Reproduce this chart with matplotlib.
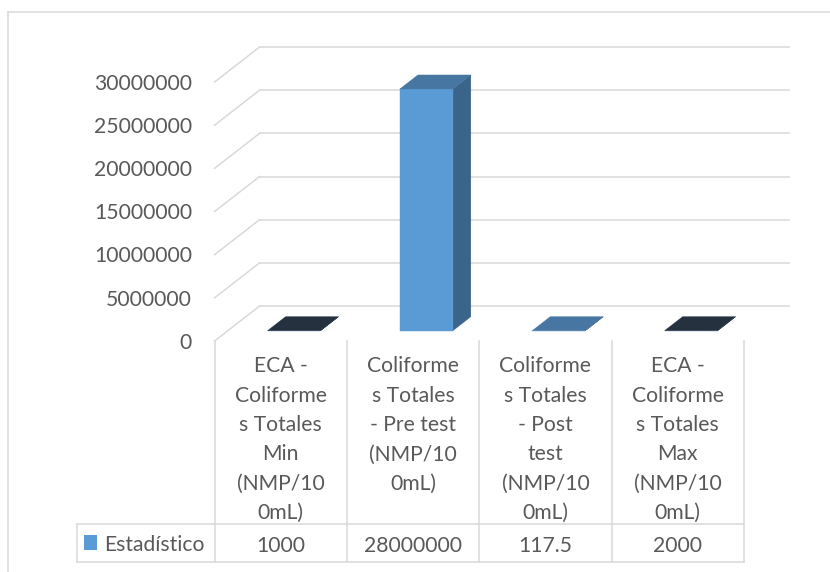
import matplotlib
matplotlib.use("Agg")
import matplotlib.pyplot as plt
from matplotlib.patches import Polygon
from matplotlib.lines import Line2D
from matplotlib.transforms import IdentityTransform

# ---- data -------------------------------------------------------------
categories = [
    "ECA - Coliformes Totales Min (NMP/100mL)",
    "Coliformes Totales - Pre test (NMP/100mL)",
    "Coliformes Totales - Post test (NMP/100mL)",
    "ECA - Coliformes Totales Max (NMP/100mL)",
]
category_lines = [
    ["ECA -", "Coliforme", "s Totales", "Min", "(NMP/10", "0mL)"],
    ["Coliforme", "s Totales", "- Pre test", "(NMP/10", "0mL)"],
    ["Coliforme", "s Totales", "- Post", "test", "(NMP/10", "0mL)"],
    ["ECA -", "Coliforme", "s Totales", "Max", "(NMP/10", "0mL)"],
]
series_name = "Estadístico"
values = [1000, 28000000, 117.5, 2000]
y_ticks = [0, 5000000, 10000000, 15000000, 20000000, 25000000, 30000000]

# ---- style ------------------------------------------------------------
W, H = 830, 572
FONT = "Lato"
FS = 15.2
TEXT_C = "#595959"
GRID_C = "#d9d9d9"
FRONT_C = "#5b9bd5"
SIDE_C = "#3a6489"
TOP_C = ["#263140", "#4676a1", "#4676a1", "#263140"]
DEPTH = (45.0, 35.0)       # oblique depth of the floor in pixels
BAR_F0, BAR_F1 = 0.294, 0.694
BAR_HALF = 0.2

fig = plt.figure(figsize=(W / 100, H / 100), dpi=100)
fig.patch.set_facecolor("white")

# front plane of the plot: categories 0..4 horizontally, values vertically
x0_px, x1_px = 214.6, 744.0
ybot_px, ytop_px = 341.0, 82.0
ax = fig.add_axes([x0_px / W, (H - ybot_px) / H,
                   (x1_px - x0_px) / W, (ybot_px - ytop_px) / H])
ax.set_xlim(0, len(categories))
ax.set_ylim(0, y_ticks[-1])
ax.axis("off")

ident = IdentityTransform()


def proj(x, v, f=0.0):
    px, py = ax.transData.transform((x, v))
    return (px + DEPTH[0] * f, py + DEPTH[1] * f)


def pix(x, y_from_top):
    return (x, H - y_from_top)


def line(p, q, color=GRID_C, lw=1.1, z=1):
    ax.add_line(Line2D([p[0], q[0]], [p[1], q[1]], color=color, lw=lw,
                       transform=ident, clip_on=False, zorder=z))


def poly(pts, color, z):
    ax.add_patch(Polygon(pts, closed=True, facecolor=color, edgecolor=color,
                         lw=0.3, transform=ident, clip_on=False, zorder=z))


def text(p, s, ha="center", va="baseline"):
    ax.text(p[0], p[1], s, transform=ident, ha=ha, va=va, color=TEXT_C,
            fontsize=FS, family=FONT, clip_on=False, zorder=6)


# chart area border (top and left edges)
line(pix(8, 12), pix(W + 5, 12), lw=1.1)
line(pix(8, 12), pix(8, H + 5), lw=1.1)

# walls: back gridlines and side-wall diagonals
for v in y_ticks:
    line(proj(0, v, 1.0), proj(len(categories), v, 1.0))
    line(proj(0, v, 0.0), proj(0, v, 1.0))
    p = proj(0, v, 0.0)
    text((p[0] - 22.6, p[1] - 1.8), f"{v}", ha="right", va="center")

# bars
for i, v in enumerate(values):
    cx = i + 0.5
    l, r = cx - BAR_HALF, cx + BAR_HALF
    side = [proj(r, 0, BAR_F0), proj(r, 0, BAR_F1), proj(r, v, BAR_F1), proj(r, v, BAR_F0)]
    front = [proj(l, 0, BAR_F0), proj(r, 0, BAR_F0), proj(r, v, BAR_F0), proj(l, v, BAR_F0)]
    top = [proj(l, v, BAR_F0), proj(r, v, BAR_F0), proj(r, v, BAR_F1), proj(l, v, BAR_F1)]
    poly(side, SIDE_C, 3)
    poly(front, FRONT_C, 4)
    poly(top, TOP_C[i], 5)

# data table
tbl_top, tbl_mid, tbl_bot = 341.0, 524.0, 562.0
legend_left = 77.0
for i in range(len(categories) + 1):
    xb = proj(i, 0)[0]
    line((xb, H - tbl_top), (xb, H - tbl_bot))
right_px = proj(len(categories), 0)[0]
line(pix(legend_left, tbl_mid), (right_px, H - tbl_mid))
line(pix(legend_left, tbl_bot), (right_px, H - tbl_bot))
line(pix(legend_left, tbl_mid), pix(legend_left, tbl_bot))


def fmt(v):
    return f"{int(v)}" if float(v).is_integer() else f"{v}"


for i, lines in enumerate(category_lines):
    cx = proj(i + 0.5, 0)[0]
    for k, s in enumerate(lines):
        text((cx, H - (372.3 + 29.4 * k)), s)
    text((cx, H - 551.5), fmt(values[i]))

# series key inside the table
ax.add_patch(Polygon([pix(84, 535), pix(97.3, 535), pix(97.3, 550), pix(84, 550)],
                     closed=True, facecolor=FRONT_C, edgecolor="none",
                     transform=ident, clip_on=False, zorder=5))
text(pix(104.5, 551.0), series_name, ha="left")

fig.savefig("out.png", dpi=100, facecolor="white")
